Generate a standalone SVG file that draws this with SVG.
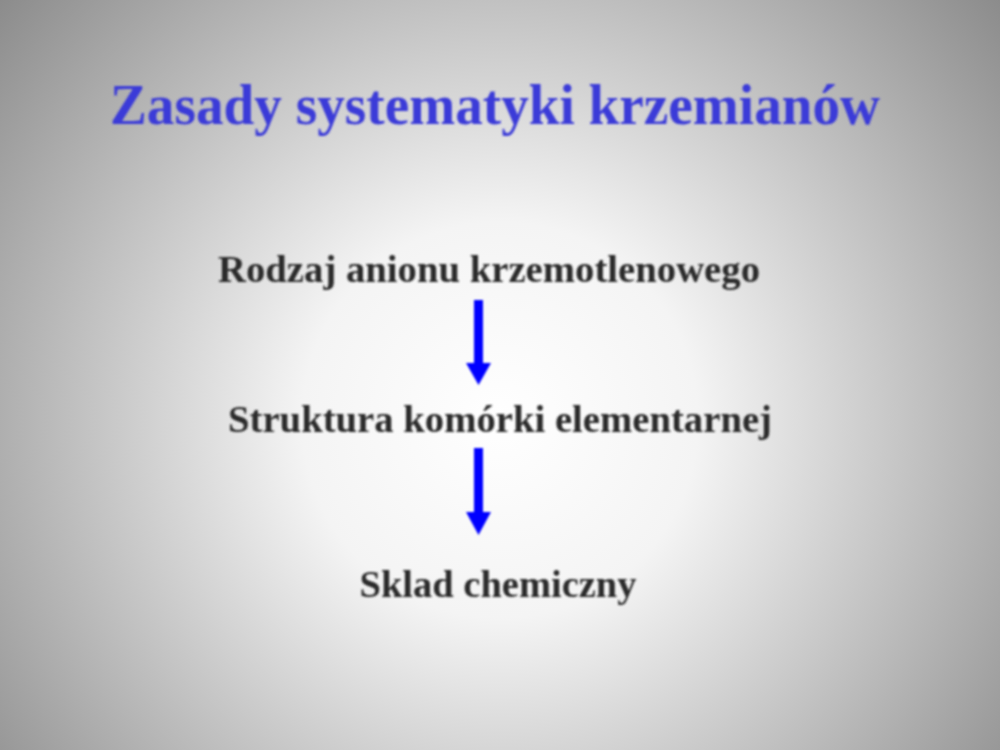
<svg xmlns="http://www.w3.org/2000/svg" width="1000" height="750" viewBox="0 0 1000 750">
<defs>
<radialGradient id="bg" cx="500" cy="420" r="660" gradientUnits="userSpaceOnUse">
<stop offset="0" stop-color="#ffffff"/>
<stop offset="0.3" stop-color="#f4f4f4"/>
<stop offset="1" stop-color="#8a8a8a"/>
</radialGradient>
<filter id="soft" x="-5%" y="-20%" width="110%" height="140%"><feGaussianBlur stdDeviation="1.3"/></filter>
</defs>
<style>
.t{font-family:"Liberation Serif","Times New Roman",serif;font-weight:bold;text-anchor:middle}
.title{font-size:57px;fill:#3a3ad8}
.lab{font-size:38px;fill:#2a2a2a}
.arr{fill:#0000ff}
</style>
<rect width="1000" height="750" fill="url(#bg)"/>
<g filter="url(#soft)">
<g id="title"><text class="t title" x="495" y="124" textLength="770" lengthAdjust="spacingAndGlyphs">Zasady systematyki krzemianów</text></g>
<g id="n1"><text class="t lab" x="489" y="282" textLength="542" lengthAdjust="spacingAndGlyphs">Rodzaj anionu krzemotlenowego</text></g>
<g id="n2"><text class="t lab" x="500" y="432" textLength="544" lengthAdjust="spacingAndGlyphs">Struktura komórki elementarnej</text></g>
<g id="n3"><text class="t lab" x="498" y="597" textLength="277" lengthAdjust="spacingAndGlyphs">Sklad chemiczny</text></g>
<g id="connectors">
<path class="arr" d="M474 300 H483 V363 H491 L478.5 385 L466 363 H474 Z"/>
<path class="arr" d="M474 448 H483 V512 H491 L478.5 535 L466 512 H474 Z"/>
</g>
</g>
</svg>
